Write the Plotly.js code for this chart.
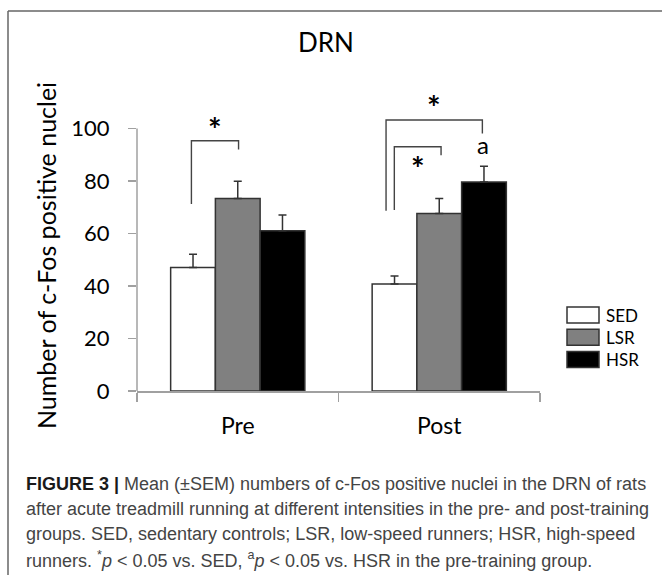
<!DOCTYPE html>
<html>
<head>
<meta charset="utf-8">
<script src="https://cdn.plot.ly/plotly-3.0.1.min.js"></script>
<style>html,body{margin:0;padding:0;background:#fff;}#chart{width:662px;height:575px;}</style>
</head>
<body>
<div id="chart"></div>
<script>
// ---- data ----
const categories = ['Pre', 'Post'];
const seriesNames = ['SED', 'LSR', 'HSR'];
const sedMean = [47.0, 40.7];
const sedSem  = [5.1, 3.1];
const lsrMean = [73.3, 67.6];
const lsrSem  = [6.6, 5.7];
const hsrMean = [61.0, 79.6];
const hsrSem  = [6.0, 6.0];
const yTickVals = [0, 20, 40, 60, 80, 100];

// significance brackets (x in category units: Pre=0, Post=1; y in data units)
const bracketXs = [[-0.230, -0.230, 0.004, 0.004], [0.736, 0.736, 1.214, 1.214], [0.777, 0.777, 1.009, 1.009]];
const bracketYs = [[71.2, 95.3, 95.3, 92.0], [68.6, 103.2, 103.2, 98.1], [68.9, 93.0, 93.0, 89.8]];
const markX = [-0.112, 0.975, 0.896, 1.216];
const markY = [102.1, 110.8, 87.3, 92.4];
const markText = ['*', '*', '*', 'a'];

const captionLines = [
  '<span style="color:#1a1a1a"><b>FIGURE 3 |</b></span> Mean (±SEM) numbers of c-Fos positive nuclei in the DRN of rats',
  'after acute treadmill running at different intensities in the pre- and post-training',
  'groups. SED, sedentary controls; LSR, low-speed runners; HSR, high-speed',
  'runners. <sup>*</sup><i>p</i> &lt; 0.05 vs. SED, <sup>a</sup><i>p</i> &lt; 0.05 vs. HSR in the pre-training group.'
];
const yTitle = 'Number of c-Fos positive nuclei';

// ---- layout helpers ----
const FW = 662, FH = 575;
const Y_MAX = 115;            // headroom above the 100 tick for the brackets
const M = {l: 137, r: 122, t: 89, b: 184};
const PW = FW - M.l - M.r, PH = FH - M.t - M.b;
const px2x = p => (p - M.l) / PW;
const py2y = p => (FH - M.b - p) / PH;
const FONT = 'Lato, "Open Sans", sans-serif';

const fills = ['#ffffff', '#808080', '#000000'];
const means = [sedMean, lsrMean, hsrMean];
const sems = [sedSem, lsrSem, hsrSem];

const traces = seriesNames.map((name, i) => ({
  type: 'bar',
  name: name,
  x: categories,
  y: means[i],
  marker: {color: fills[i], line: {color: '#333333', width: 1.5}},
  error_y: {type: 'data', symmetric: false, array: sems[i], arrayminus: [0, 0],
            color: '#333333', thickness: 1.5, width: 4},
  showlegend: false,
  hoverinfo: 'x+y+name'
}));

bracketXs.forEach((bx, i) => {
  traces.push({
    type: 'scatter', mode: 'lines', x: bx, y: bracketYs[i],
    xaxis: 'x2', yaxis: 'y', cliponaxis: false,
    line: {color: '#444444', width: 1.4}, showlegend: false, hoverinfo: 'skip'
  });
});

const shapes = [
  // y axis line, only from 0 to 100
  {type: 'line', xref: 'paper', yref: 'y', x0: 0, x1: 0, y0: 0, y1: yTickVals[yTickVals.length - 1],
   line: {color: '#a0a0a0', width: 1.5}},
  // figure frame (left and top)
  {type: 'line', xref: 'paper', yref: 'paper', x0: px2x(8), x1: px2x(8), y0: py2y(11), y1: py2y(FH), line: {color: '#666', width: 1.5}},
  {type: 'line', xref: 'paper', yref: 'paper', x0: px2x(8), x1: px2x(FW), y0: py2y(11), y1: py2y(11), line: {color: '#666', width: 1.5}}
];
const annotations = [];

// significance marks (glyph offsets compensate for where each glyph sits in its box)
markText.forEach((t, i) => {
  const star = t === '*';
  annotations.push({xref: 'x2', yref: 'y', x: markX[i], y: markY[i], text: t, showarrow: false,
    xanchor: 'center', yanchor: 'middle', yshift: star ? -7 : 4,
    font: {family: FONT, size: star ? 32 : 24, color: '#000', weight: star ? 700 : 400}});
});

// y-axis title
annotations.push({xref: 'paper', yref: 'paper', x: px2x(46), y: py2y(256), text: yTitle,
  textangle: -90, showarrow: false, xanchor: 'center', yanchor: 'middle',
  font: {family: FONT, size: 25, color: '#000'}});

// legend (drawn manually to match swatch size)
const legX = 567, legW = 32, legTop = 307, legStep = 22.2, legH = 16;
seriesNames.forEach((name, i) => {
  const top = legTop + i * legStep;
  shapes.push({type: 'rect', xref: 'paper', yref: 'paper',
    x0: px2x(legX), x1: px2x(legX + legW), y0: py2y(top + legH), y1: py2y(top),
    fillcolor: fills[i], line: {color: '#333333', width: 1.5}});
  annotations.push({xref: 'paper', yref: 'paper', x: px2x(legX + legW + 5), y: py2y(top + legH / 2),
    xanchor: 'left', yanchor: 'middle', showarrow: false, text: name,
    font: {family: FONT, size: 17, color: '#000'}});
});

// caption
const capY = [484, 509, 534, 559];
captionLines.forEach((t, i) => {
  annotations.push({xref: 'paper', yref: 'paper', x: px2x(24), y: py2y(capY[i]),
    xanchor: 'left', yanchor: 'middle', align: 'left', showarrow: false, text: t,
    font: {family: '"Liberation Sans", Arial, sans-serif', size: 18, color: '#444444'}});
});

const layout = {
  width: FW, height: FH,
  margin: M,
  paper_bgcolor: '#ffffff', plot_bgcolor: '#ffffff',
  font: {family: FONT, color: '#000'},
  title: {text: 'DRN', font: {family: FONT, size: 26, color: '#000'},
          xref: 'container', yref: 'container', x: 326 / FW, y: 1 - 43 / FH,
          xanchor: 'center', yanchor: 'middle'},
  barmode: 'group', bargap: 0.334, bargroupgap: 0,
  xaxis: {type: 'category', range: [-0.5, 1.5], showline: true, linecolor: '#a0a0a0', linewidth: 1.5,
          ticks: 'outside', tickson: 'boundaries', ticklen: 9, tickcolor: '#a0a0a0', tickwidth: 1.5,
          tickfont: {family: FONT, size: 23, color: '#000'}, ticklabelstandoff: 14,
          showgrid: false, zeroline: false, fixedrange: true},
  xaxis2: {overlaying: 'x', range: [-0.5, 1.5], visible: false, fixedrange: true},
  yaxis: {range: [0, Y_MAX], tickvals: yTickVals, showline: false,
          ticks: 'outside', ticklen: 8, tickcolor: '#a0a0a0', tickwidth: 1.5,
          tickfont: {family: FONT, size: 22, color: '#000'}, ticklabelstandoff: 14,
          showgrid: false, zeroline: false, fixedrange: true},
  showlegend: false,
  shapes: shapes,
  annotations: annotations
};

Plotly.newPlot('chart', traces, layout, {displayModeBar: false, staticPlot: true});
</script>
</body>
</html>
